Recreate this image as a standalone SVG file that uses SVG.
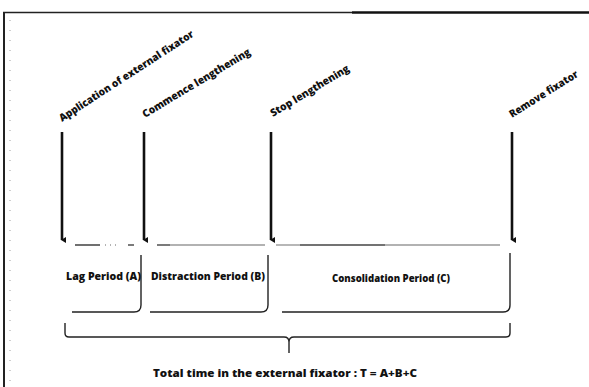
<svg xmlns="http://www.w3.org/2000/svg" width="589" height="387" viewBox="0 0 589 387">
<defs>
<marker id="ah" markerWidth="6" markerHeight="6" refX="3" refY="5" orient="auto" markerUnits="userSpaceOnUse" viewBox="0 0 6 6">
<path d="M0,1 L3,6 L6,1 Z" fill="#111"/>
</marker>
<style>
.lbl{font-family:"Open Sans","Liberation Sans",sans-serif;font-weight:800;font-size:10.5px;fill:#111}
.rot{font-family:"Open Sans","Liberation Sans",sans-serif;font-weight:800;font-size:10.5px;fill:#111}
.arr{stroke:#111;stroke-width:2.6;fill:none}
.box{stroke:#222;stroke-width:1.4;fill:none}
.dash{stroke:#999;stroke-width:1.4}
</style>
</defs>
<rect width="589" height="387" fill="#fff"/>
<g id="frame">
<line x1="3" y1="12.5" x2="352" y2="12.5" stroke="#222" stroke-width="1.5"/>
<line x1="352" y1="12.5" x2="589" y2="12.5" stroke="#111" stroke-width="2.4"/>
<line x1="4" y1="12" x2="4" y2="387" stroke="#222" stroke-width="2"/>
<line x1="10" y1="20" x2="10" y2="387" stroke="#888" stroke-width="0.8" stroke-dasharray="1 9"/>
</g>
<g id="labels">
<text class="rot" transform="translate(62,122) rotate(-33)" textLength="158" lengthAdjust="spacingAndGlyphs">Application of external fixator</text>
<text class="rot" transform="translate(145,118) rotate(-31)" textLength="124" lengthAdjust="spacingAndGlyphs">Commence lengthening</text>
<text class="rot" transform="translate(273,117) rotate(-31)" textLength="90" lengthAdjust="spacingAndGlyphs">Stop lengthening</text>
<text class="rot" transform="translate(512,118) rotate(-32)" textLength="79" lengthAdjust="spacingAndGlyphs">Remove fixator</text>
</g>
<g id="connectors">
<line class="arr" x1="62" y1="132" x2="62" y2="240" marker-end="url(#ah)"/>
<line class="arr" x1="144" y1="132" x2="144" y2="240" marker-end="url(#ah)"/>
<line class="arr" x1="271" y1="132" x2="271" y2="240" marker-end="url(#ah)"/>
<line class="arr" x1="512" y1="132" x2="512" y2="240" marker-end="url(#ah)"/>
</g>
<g id="topline">
<line x1="75" y1="245" x2="100" y2="245" stroke="#222" stroke-width="1.3"/>
<line x1="105" y1="245" x2="120" y2="245" stroke="#666" stroke-width="1" stroke-dasharray="1 4"/>
<line x1="128" y1="245" x2="134" y2="245" stroke="#333" stroke-width="1.3"/>
<line x1="157" y1="245" x2="170" y2="245" stroke="#333" stroke-width="1.3"/>
<line class="dash" x1="170" y1="245" x2="265" y2="245" stroke="#bbb"/>
<line class="dash" x1="276" y1="245" x2="300" y2="245" stroke="#bbb"/>
<line x1="300" y1="245" x2="385" y2="245" stroke="#444" stroke-width="1.3"/>
<line class="dash" x1="385" y1="245" x2="500" y2="245" stroke="#aaa"/>
</g>
<g id="lag">
<path class="box" d="M72,312 H134 Q141,312 141,305 V255"/>
<text class="lbl" x="66" y="280" textLength="75" lengthAdjust="spacingAndGlyphs">Lag Period (A)</text>
</g>
<g id="distraction">
<path class="box" d="M150,312 H261 Q268,312 268,305 V255"/>
<text class="lbl" x="151" y="280" textLength="114" lengthAdjust="spacingAndGlyphs">Distraction Period (B)</text>
</g>
<g id="consolidation">
<path class="box" d="M282,312 H503 Q510,312 510,305 V253"/>
<text class="lbl" x="332" y="282" textLength="118" lengthAdjust="spacingAndGlyphs">Consolidation  Period (C)</text>
</g>
<g id="total">
<path class="box" d="M65,323 V333 Q65,337 69,337 H284 Q289,337 289,342 V353 M289,342 Q289,337 294,337 H506 Q510,337 510,333 V323"/>
<text class="lbl" x="153" y="377" font-size="11.5" textLength="264" lengthAdjust="spacingAndGlyphs">Total time in the external fixator : T = A+B+C</text>
</g>
</svg>
